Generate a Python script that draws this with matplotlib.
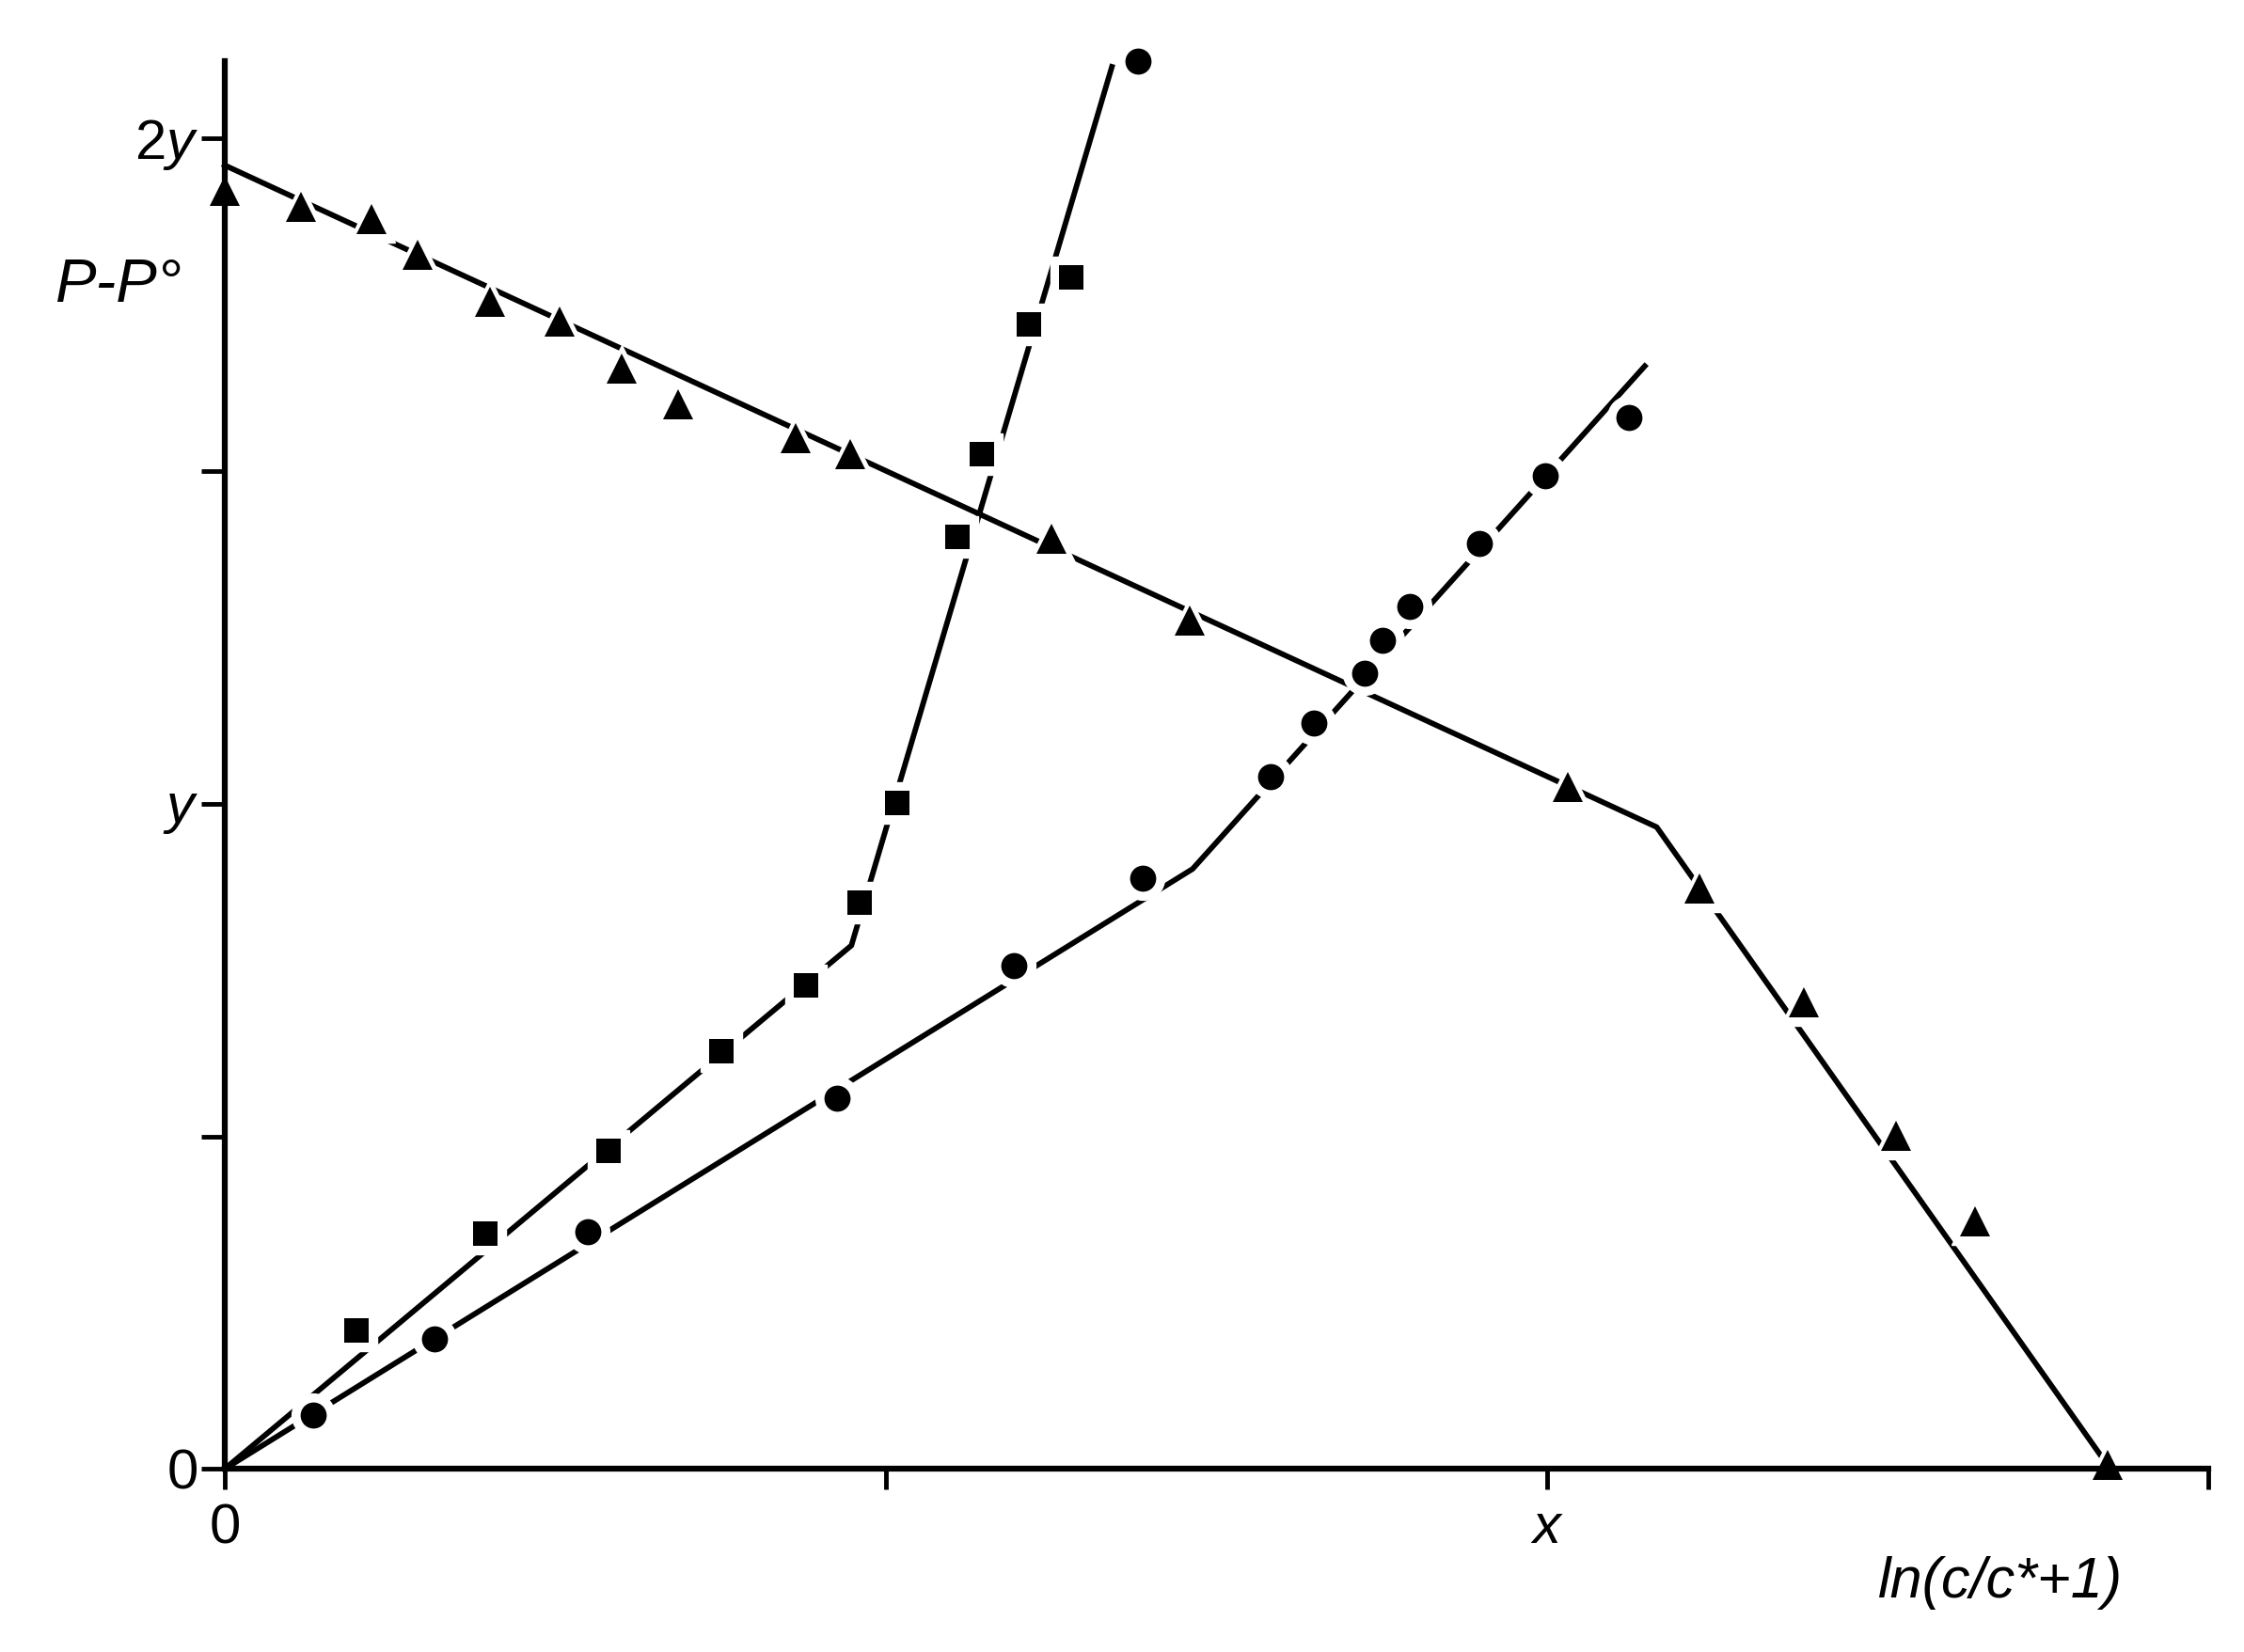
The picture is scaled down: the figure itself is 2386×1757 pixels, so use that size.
import matplotlib
matplotlib.use('Agg')
import numpy as np
from matplotlib import pyplot as plt

# 三角形数据点
tri_x = [0.0, 0.058, 0.111, 0.146, 0.201, 0.253, 0.300, 0.343, 0.432, 0.473,
         0.625, 0.730, 1.016, 1.115, 1.194, 1.264, 1.324, 1.424]
tri_y = [1.922, 1.898, 1.879, 1.825, 1.754, 1.725, 1.654, 1.600, 1.550, 1.525,
         1.398, 1.276, 1.025, 0.872, 0.702, 0.501, 0.372, 0.006]
# 三角形拟合折线
tri_fit_x = [0.0, 1.083, 1.426]
tri_fit_y = [1.960, 0.965, 0.0]

# 方块数据点
sq_x = [0.100, 0.197, 0.290, 0.376, 0.440, 0.480, 0.509, 0.554, 0.573, 0.608, 0.640]
sq_y = [0.208, 0.354, 0.478, 0.628, 0.727, 0.851, 1.001, 1.401, 1.526, 1.721, 1.792]
sq_fit_x = [0.0, 0.474, 0.671]
sq_fit_y = [0.0, 0.787, 2.108]

# 圆点数据点
cir_x = [0.067, 0.159, 0.275, 0.463, 0.597, 0.694, 0.791, 0.824, 0.862, 0.876,
         0.896, 0.949, 0.999, 1.062, 0.691]
cir_y = [0.081, 0.195, 0.356, 0.557, 0.756, 0.888, 1.041, 1.121, 1.197, 1.246,
         1.297, 1.392, 1.493, 1.581, 2.117]
cir_fit_x = [0.0, 0.732, 1.074]
cir_fit_y = [0.0, 0.902, 1.658]

x_ticks = [0, 0.5, 1.0, 1.5]
x_tick_labels = ['0', '', '$x$', '']
y_ticks = [0, 0.5, 1.0, 1.5, 2.0]
y_tick_labels = ['0', '', '$y$', '', '$2y$']

plt.rcParams['font.family'] = ['Liberation Sans', 'DejaVu Sans']
plt.rcParams['mathtext.fontset'] = 'custom'
plt.rcParams['mathtext.rm'] = 'Liberation Sans'
plt.rcParams['mathtext.it'] = 'Liberation Sans:italic'

fig = plt.figure(figsize=(23.86, 17.57), dpi=100)
ax = fig.add_axes([0.1001, 0.1108, 0.8839, 0.852])

lw = 4.2
ax.plot(tri_fit_x, tri_fit_y, color='black', lw=lw, zorder=2, clip_on=False)
ax.plot(sq_fit_x, sq_fit_y, color='black', lw=lw, zorder=2, clip_on=False)
ax.plot(cir_fit_x, cir_fit_y, color='black', lw=lw, zorder=2, clip_on=False)

# 标记周围的白色空隙
series = [(tri_x, tri_y, '^', 23), (sq_x, sq_y, 's', 19), (cir_x, cir_y, 'o', 20)]
for sx, sy, mk, ms in series:
    ax.plot(sx, sy, linestyle='none', marker=mk, ms=ms + 13, color='white',
            mec='white', zorder=3, clip_on=False)
for sx, sy, mk, ms in series:
    ax.plot(sx, sy, linestyle='none', marker=mk, ms=ms, color='black',
            mec='black', mew=0, zorder=4, clip_on=False)

ax.set_xlim(0, 1.5)
ax.set_ylim(0, 2.116)
ax.spines['top'].set_visible(False)
ax.spines['right'].set_visible(False)
for s in ['left', 'bottom']:
    ax.spines[s].set_linewidth(4.5)
    ax.spines[s].set_zorder(3.5)

ax.set_xticks(x_ticks)
ax.set_xticklabels(x_tick_labels)
ax.set_yticks(y_ticks)
ax.set_yticklabels(y_tick_labels)
ax.tick_params(axis='x', direction='out', length=16, width=3.5, pad=10, labelsize=43)
ax.tick_params(axis='y', direction='out', length=18, width=3.5, pad=2, labelsize=43)

fig.text(0.053, 0.827, 'P-P°', fontsize=47, fontstyle='italic', ha='center', va='center')
fig.text(0.891, 0.042, 'ln(c/c*+1)', fontsize=44, fontstyle='italic', ha='center', va='center')

plt.savefig('out.png', dpi=100)
